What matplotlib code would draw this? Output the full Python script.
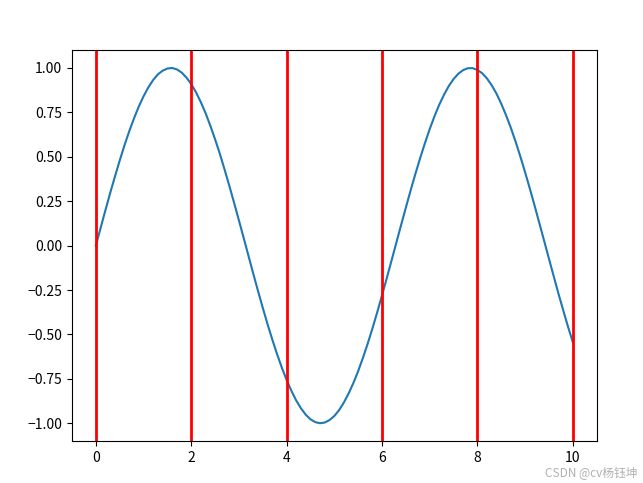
import numpy as np
import matplotlib.pyplot as plt

plt.rcParams['font.family'] = ['Noto Sans CJK SC', 'DejaVu Sans']
plt.rcParams['axes.unicode_minus'] = True

# valores (passo 0.1)
x_vals = [round(0.1 * i, 1) for i in range(101)]
y_vals = [0.000, 0.100, 0.199, 0.296, 0.389, 0.479, 0.565, 0.644, 0.717, 0.783,
          0.841, 0.891, 0.932, 0.964, 0.985, 0.997, 1.000, 0.992, 0.974, 0.946,
          0.909, 0.863, 0.808, 0.746, 0.675, 0.598, 0.516, 0.427, 0.335, 0.239,
          0.141, 0.042, -0.058, -0.158, -0.256, -0.351, -0.443, -0.530, -0.612, -0.688,
          -0.757, -0.818, -0.872, -0.916, -0.952, -0.978, -0.994, -1.000, -0.996, -0.982,
          -0.959, -0.926, -0.883, -0.832, -0.773, -0.706, -0.631, -0.551, -0.465, -0.374,
          -0.279, -0.182, -0.083, 0.017, 0.117, 0.215, 0.312, 0.405, 0.494, 0.578,
          0.657, 0.729, 0.794, 0.850, 0.899, 0.938, 0.968, 0.988, 0.999, 0.999,
          0.989, 0.970, 0.941, 0.902, 0.855, 0.798, 0.734, 0.663, 0.585, 0.501,
          0.412, 0.319, 0.223, 0.124, 0.025, -0.075, -0.174, -0.272, -0.366, -0.458,
          -0.544]
vlines_x = [0, 2, 4, 6, 8, 10]

fig = plt.figure(figsize=(6.43, 4.83), dpi=100)
ax = fig.add_axes([0.112, 0.087, 0.816, 0.809])

ax.plot(x_vals, y_vals, color='#1f77b4', linewidth=1.5)
for xv in vlines_x:
    ax.axvline(xv, color='red', linewidth=2)

ax.set_xlim(-0.5, 10.5)
ax.set_ylim(-1.1, 1.1)
ax.set_xticks([0, 2, 4, 6, 8, 10])
ax.set_yticks([-1.0, -0.75, -0.5, -0.25, 0.0, 0.25, 0.5, 0.75, 1.0])
ax.tick_params(labelsize=10)

# marca d'agua
fig.text(0.992, 0.008, 'CSDN @cv杨钰坤', ha='right', va='bottom', fontsize=8.5,
         color='#b0b0b0')

fig.savefig('out.png', dpi=100)
